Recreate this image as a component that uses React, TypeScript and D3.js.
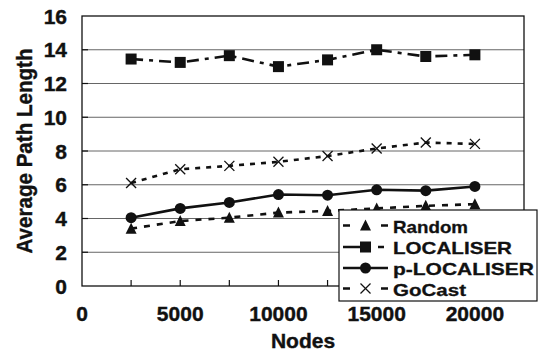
import React from "react";
import * as d3 from "d3";

const nodes = [2500, 5000, 7500, 10000, 12500, 15000, 17500, 20000];
const randomVals = [3.4, 3.85, 4.05, 4.35, 4.45, 4.6, 4.75, 4.85];
const localiserVals = [13.45, 13.25, 13.65, 13.0, 13.4, 14.0, 13.6, 13.7];
const pLocaliserVals = [4.05, 4.6, 4.95, 5.42, 5.38, 5.7, 5.65, 5.9];
const goCastVals = [6.1, 6.92, 7.12, 7.36, 7.7, 8.15, 8.5, 8.42];
const xTicks = [0, 5000, 10000, 15000, 20000];
const xMinorTicks = [2500, 5000, 7500, 10000, 12500, 15000, 17500, 20000];
const yTicks = [0, 2, 4, 6, 8, 10, 12, 14, 16];
const seriesNames = ["Random", "LOCALISER", "p-LOCALISER", "GoCast"];

const W = 538;
const H = 359;
const plot = { left: 82, right: 524, top: 16, bottom: 286 };

const styles: Record<string, { dash: string; legendDash: string; marker: string; legendWidth: number }> = {
  Random: { dash: "6,7", legendDash: "7,31,7", marker: "triangle", legendWidth: 75 },
  LOCALISER: { dash: "12,6,4,6", legendDash: "22,13,6,10", marker: "square", legendWidth: 119 },
  "p-LOCALISER": { dash: "", legendDash: "", marker: "circle", legendWidth: 141 },
  GoCast: { dash: "5,6", legendDash: "7,31,7", marker: "cross", legendWidth: 73 },
};

const FONT = "'Liberation Sans', Arial, Helvetica, sans-serif";

function Marker({ type, x, y }: { type: string; x: number; y: number }) {
  if (type === "triangle") {
    return <path d={`M${x},${y - 6} L${x + 5.5},${y + 5} L${x - 5.5},${y + 5} Z`} fill="#111" />;
  }
  if (type === "square") {
    return <rect x={x - 5.5} y={y - 5.5} width={11} height={11} fill="#111" />;
  }
  if (type === "circle") {
    return <circle cx={x} cy={y} r={5.5} fill="#111" />;
  }
  return (
    <g stroke="#111" strokeWidth={1.3}>
      <line x1={x - 5} y1={y - 5} x2={x + 5} y2={y + 5} />
      <line x1={x - 5} y1={y + 5} x2={x + 5} y2={y - 5} />
    </g>
  );
}

export default function App() {
  const x = d3.scaleLinear().domain([0, 22500]).range([plot.left, plot.right]);
  const y = d3.scaleLinear().domain([0, 16]).range([plot.bottom, plot.top]);
  const seriesVals = [randomVals, localiserVals, pLocaliserVals, goCastVals];
  const line = d3
    .line<[number, number]>()
    .x((d) => x(d[0]))
    .y((d) => y(d[1]));

  const legend = { x: 339, y: 210, w: 198, h: 91 };
  const rowY = [225.5, 247, 268, 288.5];
  const bold = { fontWeight: "bold" as const, fill: "#111", stroke: "#111", strokeWidth: 0.4 };

  return (
    <svg width={W} height={H} style={{ position: "absolute", left: 0, top: 0, background: "#fff" }} fontFamily={FONT}>
      <rect x={0} y={0} width={W} height={H} fill="#fff" />
      {yTicks.slice(1, -1).map((t) => (
        <g key={"g" + t}>
          <line x1={plot.left} x2={plot.right} y1={y(t)} y2={y(t)} stroke="#666" strokeWidth={1} />
          <line x1={plot.left} x2={plot.left + 6} y1={y(t)} y2={y(t)} stroke="#111" strokeWidth={1.2} />
        </g>
      ))}
      {xMinorTicks.map((t) => (
        <line key={"xt" + t} x1={x(t)} x2={x(t)} y1={plot.bottom} y2={plot.bottom - 6} stroke="#111" strokeWidth={1.2} />
      ))}
      <rect
        x={plot.left}
        y={plot.top}
        width={plot.right - plot.left}
        height={plot.bottom - plot.top}
        fill="none"
        stroke="#111"
        strokeWidth={1.3}
      />
      {yTicks.map((t) => (
        <text key={"yl" + t} x={67} y={y(t) + 7.5} textAnchor="end" fontSize={21} {...bold}>
          {t}
        </text>
      ))}
      {xTicks.map((t) => (
        <text key={"xl" + t} x={x(t)} y={321} textAnchor="middle" fontSize={21} {...bold}>
          {t}
        </text>
      ))}
      <text x={(plot.left + plot.right) / 2} y={348} textAnchor="middle" fontSize={21} {...bold}>
        Nodes
      </text>
      <text
        transform={`translate(32,${(plot.top + plot.bottom) / 2}) rotate(-90)`}
        textAnchor="middle"
        fontSize={22}
        {...bold}
        textLength={205}
        lengthAdjust="spacingAndGlyphs"
      >
        Average Path Length
      </text>
      {seriesNames.map((name, i) => {
        const st = styles[name];
        const pts = nodes.map((n, j) => [n, seriesVals[i][j]] as [number, number]);
        return (
          <g key={name}>
            <path d={line(pts) || ""} fill="none" stroke="#111" strokeWidth={2.6} strokeDasharray={st.dash || undefined} />
            {pts.map((p, j) => (
              <Marker key={j} type={st.marker} x={x(p[0])} y={y(p[1])} />
            ))}
          </g>
        );
      })}
      <rect x={legend.x} y={legend.y} width={legend.w} height={legend.h} fill="#fff" stroke="#111" strokeWidth={1.2} />
      {seriesNames.map((name, i) => {
        const st = styles[name];
        const ry = rowY[i];
        return (
          <g key={"lg" + name}>
            <line
              x1={343}
              x2={388}
              y1={ry}
              y2={ry}
              stroke="#111"
              strokeWidth={2.6}
              strokeDasharray={st.legendDash || undefined}
            />
            <Marker type={st.marker} x={365.5} y={ry} />
            <text
              x={393}
              y={ry + 7}
              fontSize={17}
              {...bold}
              strokeWidth={0.3}
              textLength={st.legendWidth}
              lengthAdjust="spacingAndGlyphs"
            >
              {name}
            </text>
          </g>
        );
      })}
    </svg>
  );
}
